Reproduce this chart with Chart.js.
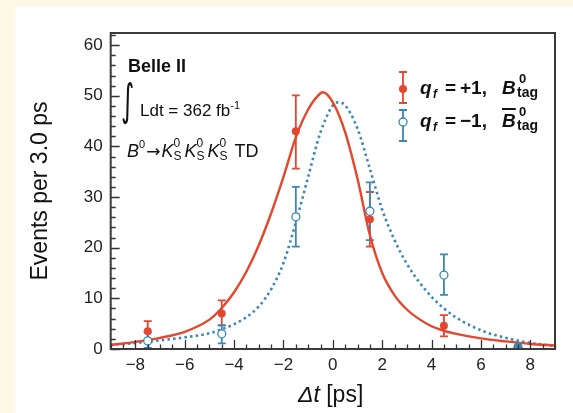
<!DOCTYPE html>
<html>
<head>
<meta charset="utf-8">
<script src="https://cdn.jsdelivr.net/npm/chart.js@4.4.1/dist/chart.umd.min.js"></script>
<style>
  html, body { margin: 0; padding: 0; }
  body {
    width: 573px; height: 413px; position: relative; overflow: hidden;
    background: #fef8e6;
    font-family: "Liberation Sans", Arial, sans-serif; color: #111;
  }
  #panel { position: absolute; left: 15px; top: 7px; width: 558px; height: 406px; background: #fff; }
  #wrap { position: absolute; left: 0; top: 0; width: 573px; height: 413px; }
  .note { position: absolute; white-space: nowrap; line-height: 1; }
  .stack { display: inline-block; position: relative; vertical-align: baseline; }
  .stack .up, .stack .dn { position: absolute; left: 0; line-height: 1; }
  .it { font-style: italic; }
  .bar { text-decoration: overline; text-decoration-thickness: 2px; }
  .leg { position: absolute; white-space: nowrap; line-height: 1; font-size: 19px; font-weight: bold; }
  .leg span { position: absolute; }
</style>
</head>
<body>
<div id="panel"></div>
<div id="wrap"><canvas id="myChart" width="573" height="413"></canvas></div>

<div class="note" style="left:128px; top:57px; font-size:18px; font-weight:bold;">Belle II</div>
<div class="note" style="left:121px; top:79px; font-size:30px; font-family:'DejaVu Sans'; transform:scale(0.85, 1.45); transform-origin:0 0;">&#8747;</div>
<div class="note" style="left:140px; top:100px; font-size:17px;">Ldt = 362 fb<sup style="font-size:11px; vertical-align:7px;">-1</sup></div>
<div class="note" style="left:127px; top:139px; font-size:18px;">
  <span class="it">B</span><sup style="font-size:11px; vertical-align:9px;">0</sup><span style="font-family:'DejaVu Sans'; font-size:17px; margin:0 1px;">&rarr;</span><span class="it">K</span><span class="stack" style="width:11px; font-size:12px;"><span class="up" style="top:-20px;">0</span><span class="dn" style="top:-7px;">S</span></span><span class="it">K</span><span class="stack" style="width:11px; font-size:12px;"><span class="up" style="top:-20px;">0</span><span class="dn" style="top:-7px;">S</span></span><span class="it">K</span><span class="stack" style="width:15px; font-size:12px;"><span class="up" style="top:-20px;">0</span><span class="dn" style="top:-7px;">S</span></span>TD
</div>

<div class="leg" style="left:0; top:78px;">
  <span class="it" style="left:420px; top:0;">q</span>
  <span class="it" style="left:433px; top:10px; font-size:12px;">f</span>
  <span style="left:445px; top:0;">=</span>
  <span style="left:460px; top:0;">+1,</span>
  <span class="it" style="left:502px; top:0;">B</span>
  <span style="left:519px; top:-6px; font-size:13px;">0</span>
  <span style="left:517px; top:7px; font-size:14px;">tag</span>
</div>
<div class="leg" style="left:0; top:111px;">
  <span class="it" style="left:420px; top:0;">q</span>
  <span class="it" style="left:433px; top:10px; font-size:12px;">f</span>
  <span style="left:445px; top:0;">=</span>
  <span style="left:460px; top:0;">&minus;1,</span>
  <span class="it bar" style="left:502px; top:0;">B</span>
  <span style="left:519px; top:-6px; font-size:13px;">0</span>
  <span style="left:517px; top:7px; font-size:14px;">tag</span>
</div>

<div class="note" style="left:298px; top:383px; font-size:23px;"><span class="it">&Delta;t</span> [ps]</div>

<script>
// binned data, bins of 3 ps
const binCenters = [-7.5, -4.5, -1.5, 1.5, 4.5, 7.5];
const plusCounts = [3.5, 7.0, 43.0, 25.6, 4.6, null];
const plusLow = [1.6, 4.6, 35.6, 20.2, 2.5, null];
const plusHigh = [5.5, 9.6, 50.1, 31.0, 6.7, null];
const minusCounts = [1.6, 3.0, 26.1, 27.2, 14.6, 0.4];
const minusLow = [0.2, 1.1, 20.2, 21.5, 10.7, 0.4];
const minusHigh = [3.4, 4.7, 32.0, 32.9, 18.7, 0.4];

// fit projections
const plusFitDt = [-9, -8, -7, -6, -5, -4.5, -4, -3.5, -3, -2.5, -2, -1.5, -1, -0.5, -0.4, 0, 0.5, 1, 1.5, 2, 2.5, 3, 3.5, 4, 4.5, 5, 6, 7, 8, 9];
const plusFit = [0.8, 1.4, 2.2, 3.4, 5.8, 8.1, 11.2, 15.3, 20.5, 26.8, 34.0, 41.8, 47.3, 50.5, 50.7, 48.7, 42.8, 33.6, 22.5, 15.0, 10.6, 7.8, 5.9, 4.5, 3.6, 3.0, 2.1, 1.5, 1.0, 0.7];
const minusFitDt = [-9, -8, -7, -6, -5, -4.5, -4, -3.5, -3, -2.5, -2, -1.5, -1, -0.5, 0, 0.2, 0.5, 1, 1.5, 2, 2.5, 3, 3.5, 4, 4.5, 5, 6, 7, 8, 9];
const minusFit = [0.8, 1.2, 1.7, 2.3, 3.1, 3.9, 4.9, 6.3, 8.4, 11.8, 17.0, 25.0, 34.0, 42.8, 48.1, 48.7, 48.1, 43.5, 35.6, 27.5, 21.5, 16.8, 13.2, 10.3, 8.0, 6.2, 3.7, 2.2, 1.2, 0.6];

const xTicks = [-8, -6, -4, -2, 0, 2, 4, 6, 8];
const yTicks = [0, 10, 20, 30, 40, 50, 60];

const RED = '#e4462e';
const BLUE = '#3a87b8';

function pts(xs, ys) {
    return xs.map((x, i) => ({x: x, y: ys[i]}));
}

// error bars, drawn under the markers
const errorBars = {
    id: 'errorBars',
    beforeDatasetsDraw(chart) {
        const ctx = chart.ctx;
        const xs = chart.scales.x, ys = chart.scales.y;
        chart.data.datasets.forEach((ds) => {
            if (!ds.errLow) return;
            ctx.save();
            ctx.strokeStyle = ds.errColor;
            ctx.lineWidth = 1.8;
            ds.data.forEach((p, i) => {
                if (p.y === null || ds.errLow[i] === null) return;
                if (ds.errLow[i] === ds.errHigh[i]) return;
                const px = xs.getPixelForValue(p.x);
                const lo = ys.getPixelForValue(ds.errLow[i]);
                const hi = ys.getPixelForValue(ds.errHigh[i]);
                ctx.beginPath();
                ctx.moveTo(px, lo); ctx.lineTo(px, hi);
                ctx.moveTo(px - 4, lo); ctx.lineTo(px + 4, lo);
                ctx.moveTo(px - 4, hi); ctx.lineTo(px + 4, hi);
                ctx.stroke();
            });
            ctx.restore();
        });
    }
};

// frame with inward ticks, plus the legend symbols
const frameTicks = {
    id: 'frameTicks',
    afterDraw(chart) {
        const ctx = chart.ctx;
        const a = chart.chartArea;
        const xs = chart.scales.x, ys = chart.scales.y;
        ctx.save();
        ctx.strokeStyle = '#333';
        ctx.lineWidth = 1.3;
        ctx.beginPath();
        for (let v = -9; v <= 9.001; v += 0.5) {
            const px = Math.round(xs.getPixelForValue(v)) + 0.5;
            const len = (Math.abs(v % 2) < 0.01) ? 9 : 4.5;
            ctx.moveTo(px, a.bottom); ctx.lineTo(px, a.bottom - len);
        }
        for (let v = 0; v <= 62; v += 2) {
            const py = Math.round(ys.getPixelForValue(v)) + 0.5;
            const len = (v % 10 === 0) ? 9 : 5;
            ctx.moveTo(a.left, py); ctx.lineTo(a.left + len, py);
        }
        ctx.stroke();

        ctx.strokeStyle = '#3a3a3a';
        ctx.lineWidth = 2;
        ctx.strokeRect(a.left, a.top, a.right - a.left, a.bottom - a.top);

        // legend symbols
        const lx = 403;
        [[RED, 72, 103, 89, true], [BLUE, 110, 141, 122, false]].forEach((s) => {
            ctx.strokeStyle = s[0];
            ctx.lineWidth = 1.8;
            ctx.beginPath();
            ctx.moveTo(lx, s[1]); ctx.lineTo(lx, s[2]);
            ctx.moveTo(lx - 4, s[1]); ctx.lineTo(lx + 4, s[1]);
            ctx.moveTo(lx - 4, s[2]); ctx.lineTo(lx + 4, s[2]);
            ctx.stroke();
            ctx.beginPath();
            ctx.arc(lx, s[3], 4, 0, Math.PI * 2);
            ctx.fillStyle = s[4] ? s[0] : '#fff';
            ctx.fill();
            if (!s[4]) { ctx.lineWidth = 1.3; ctx.stroke(); }
        });
        ctx.restore();
    }
};

const tickFont = {family: '"Liberation Sans", Arial, sans-serif', size: 17};

new Chart(document.getElementById('myChart'), {
    type: 'scatter',
    data: {
        datasets: [
            {
                label: 'q_f = -1 fit',
                data: pts(minusFitDt, minusFit),
                showLine: true, pointRadius: 0,
                borderColor: BLUE, borderWidth: 2.6, borderDash: [2.5, 3.2],
                cubicInterpolationMode: 'monotone', order: 3
            },
            {
                label: 'q_f = +1 fit',
                data: pts(plusFitDt, plusFit),
                showLine: true, pointRadius: 0,
                borderColor: RED, borderWidth: 2.4,
                cubicInterpolationMode: 'monotone', order: 2
            },
            {
                label: 'q_f = +1',
                data: pts(binCenters, plusCounts),
                errLow: plusLow, errHigh: plusHigh, errColor: RED,
                pointRadius: 4, backgroundColor: RED, borderColor: RED, borderWidth: 0,
                order: 1
            },
            {
                label: 'q_f = -1',
                data: pts(binCenters, minusCounts),
                errLow: minusLow, errHigh: minusHigh, errColor: BLUE,
                pointRadius: 4, borderColor: BLUE, borderWidth: 1.3,
                backgroundColor: minusCounts.map((v) => v < 1 ? BLUE : '#fff'),
                order: 0
            }
        ]
    },
    options: {
        responsive: false,
        animation: false,
        layout: {padding: {top: 33, right: 18, left: 0, bottom: 0}},
        plugins: {legend: {display: false}, tooltip: {enabled: false}},
        scales: {
            x: {
                type: 'linear', min: -9, max: 9,
                afterBuildTicks: (s) => { s.ticks = xTicks.map((v) => ({value: v})); },
                afterFit: (s) => { s.height = 64; },
                grid: {display: false, drawTicks: false},
                border: {display: false},
                ticks: {
                    padding: 6, color: '#222', font: tickFont, maxRotation: 0,
                    callback: (v) => v < 0 ? '\u2212' + Math.abs(v) : String(v)
                }
            },
            y: {
                type: 'linear', min: 0, max: 62.4,
                afterBuildTicks: (s) => { s.ticks = yTicks.map((v) => ({value: v})); },
                afterFit: (s) => { s.width = 110.7; },
                grid: {display: false, drawTicks: false},
                border: {display: false},
                ticks: {padding: 8, color: '#222', font: tickFont},
                title: {
                    display: true, text: 'Events per 3.0 ps', color: '#111',
                    font: {family: '"Liberation Sans", Arial, sans-serif', size: 23},
                    padding: {top: 27, bottom: 0}
                }
            }
        }
    },
    plugins: [errorBars, frameTicks]
});
</script>
</body>
</html>
